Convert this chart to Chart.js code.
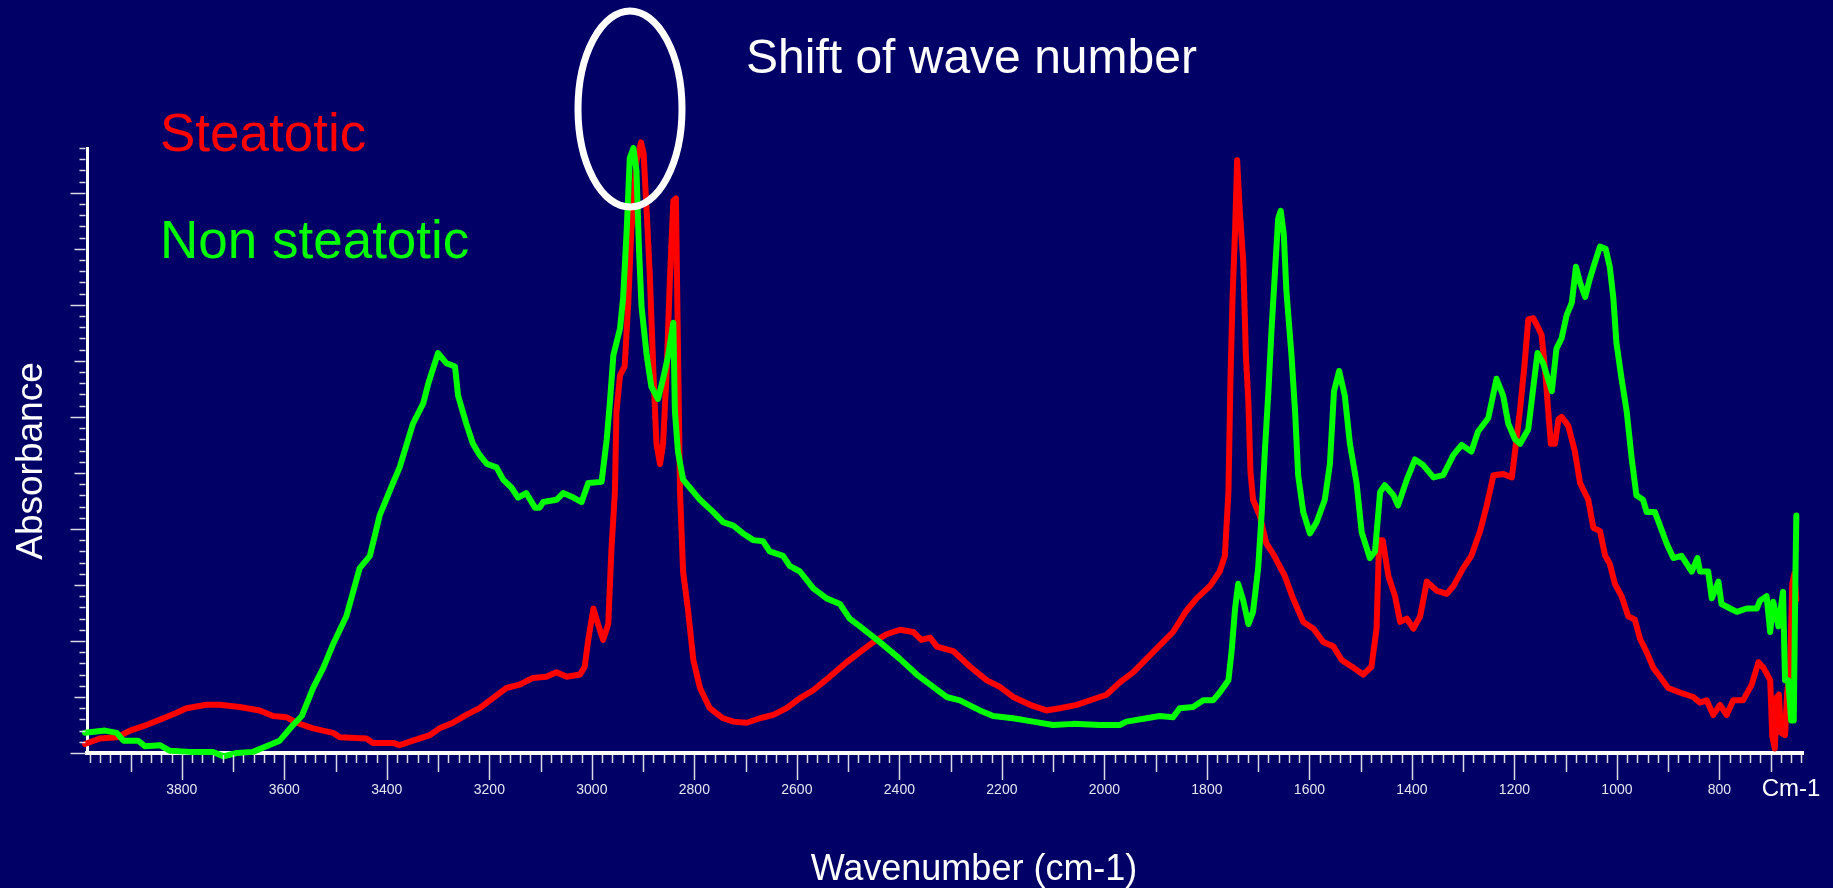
<!DOCTYPE html>
<html>
<head>
<meta charset="utf-8">
<title>FTIR spectra</title>
<script src="https://cdn.jsdelivr.net/npm/chart.js@4.4.1/dist/chart.umd.min.js"></script>
<style>
    html, body { margin: 0; padding: 0; background: #000066; overflow: hidden; }
    #spectrum { display: block; }
</style>
</head>
<body>
<canvas id="spectrum" width="1833" height="888"></canvas>
<script>
// --- Data (wavenumber in cm-1, absorbance in arbitrary units) ---
const steatoticWavenumber = [
    3989, 3960, 3927, 3901, 3869, 3836, 3810, 3791, 3752, 3726,
    3687, 3648, 3622, 3596, 3576, 3544, 3505, 3492, 3440, 3427,
    3388, 3375, 3349, 3316, 3297, 3271, 3245, 3219, 3193, 3167,
    3141, 3115, 3089, 3069, 3049, 3023, 3014, 3007, 2997, 2988,
    2978, 2968, 2962, 2955, 2952, 2945, 2936, 2929, 2923, 2913,
    2904, 2899, 2892, 2887, 2880, 2874, 2867, 2861, 2854, 2848,
    2841, 2836, 2833, 2828, 2822, 2812, 2802, 2789, 2770, 2744,
    2724, 2698, 2672, 2646, 2620, 2594, 2568, 2536, 2503, 2477,
    2451, 2425, 2399, 2373, 2357, 2340, 2327, 2295, 2262, 2230,
    2204, 2178, 2145, 2113, 2087, 2054, 2022, 1996, 1970, 1944,
    1918, 1892, 1866, 1840, 1820, 1794, 1775, 1765, 1758, 1754,
    1750, 1745, 1741, 1736, 1729, 1724, 1719, 1715, 1710, 1697,
    1684, 1671, 1648, 1632, 1612, 1592, 1573, 1553, 1537, 1514,
    1495, 1479, 1469, 1464, 1457, 1446, 1433, 1423, 1410, 1397,
    1384, 1371, 1352, 1332, 1319, 1300, 1284, 1267, 1254, 1241,
    1222, 1205, 1196, 1189, 1180, 1173, 1163, 1154, 1147, 1140,
    1134, 1129, 1121, 1114, 1108, 1095, 1082, 1072, 1056, 1046,
    1033, 1023, 1014, 1004, 991, 978, 965, 955, 942, 929,
    916, 900, 877, 851, 838, 825, 812, 799, 786, 773,
    754, 737, 724, 714, 701, 697, 692, 688, 684, 680,
    672, 668, 662, 658, 654, 650
];
const steatoticAbsorbance = [
    0.08, 0.13, 0.14, 0.20, 0.25, 0.31, 0.36, 0.40, 0.43, 0.43,
    0.41, 0.38, 0.33, 0.32, 0.27, 0.22, 0.18, 0.14, 0.13, 0.09,
    0.09, 0.07, 0.11, 0.16, 0.22, 0.27, 0.34, 0.40, 0.49, 0.58,
    0.61, 0.67, 0.68, 0.72, 0.68, 0.70, 0.77, 1.01, 1.29, 1.15,
    1.01, 1.15, 1.80, 2.33, 3.05, 3.37, 3.45, 4.02, 4.67, 5.28,
    5.45, 5.35, 4.74, 4.27, 3.41, 2.76, 2.58, 2.76, 3.41, 4.20,
    4.93, 4.95, 3.95, 2.33, 1.62, 1.26, 0.83, 0.58, 0.40, 0.31,
    0.28, 0.27, 0.31, 0.34, 0.40, 0.49, 0.56, 0.68, 0.81, 0.90,
    0.99, 1.06, 1.10, 1.08, 1.01, 1.03, 0.95, 0.91, 0.77, 0.65,
    0.59, 0.50, 0.43, 0.38, 0.40, 0.43, 0.48, 0.52, 0.63, 0.72,
    0.84, 0.96, 1.08, 1.27, 1.38, 1.49, 1.62, 1.76, 2.33, 3.34,
    4.06, 4.67, 5.29, 4.85, 4.38, 3.55, 3.12, 2.51, 2.26, 2.12,
    1.87, 1.78, 1.58, 1.38, 1.17, 1.11, 0.99, 0.95, 0.83, 0.76,
    0.70, 0.77, 1.11, 1.90, 1.90, 1.58, 1.40, 1.17, 1.20, 1.11,
    1.22, 1.53, 1.45, 1.42, 1.49, 1.65, 1.76, 1.98, 2.21, 2.48,
    2.49, 2.46, 2.80, 3.07, 3.48, 3.87, 3.88, 3.80, 3.73, 3.41,
    3.05, 2.76, 2.76, 2.98, 3.00, 2.92, 2.69, 2.41, 2.26, 2.01,
    1.98, 1.76, 1.69, 1.51, 1.40, 1.22, 1.19, 1.02, 0.90, 0.76,
    0.68, 0.58, 0.54, 0.50, 0.45, 0.47, 0.34, 0.43, 0.34, 0.47,
    0.47, 0.61, 0.81, 0.76, 0.65, 0.15, 0.04, 0.50, 0.52, 0.18,
    0.16, 0.54, 0.76, 1.51, 1.60, 1.37
];

const nonSteatoticWavenumber = [
    3989, 3950, 3927, 3914, 3885, 3872, 3843, 3823, 3784, 3739,
    3719, 3693, 3661, 3635, 3609, 3583, 3566, 3544, 3524, 3505,
    3479, 3453, 3433, 3414, 3388, 3375, 3349, 3329, 3319, 3300,
    3284, 3267, 3261, 3245, 3232, 3219, 3205, 3186, 3173, 3157,
    3144, 3128, 3111, 3102, 3095, 3069, 3056, 3036, 3020, 3007,
    2981, 2971, 2965, 2958, 2945, 2939, 2932, 2926, 2919, 2913,
    2908, 2903, 2893, 2884, 2871, 2861, 2851, 2841, 2838, 2832,
    2822, 2809, 2789, 2763, 2744, 2724, 2705, 2685, 2666, 2653,
    2627, 2614, 2594, 2568, 2542, 2516, 2497, 2477, 2438, 2399,
    2366, 2334, 2308, 2282, 2243, 2217, 2178, 2139, 2100, 2061,
    2009, 1970, 1957, 1918, 1892, 1866, 1853, 1827, 1807, 1788,
    1775, 1758, 1752, 1745, 1739, 1729, 1719, 1710, 1700, 1693,
    1687, 1680, 1674, 1667, 1661, 1656, 1650, 1645, 1635, 1628,
    1622, 1612, 1599, 1586, 1570, 1560, 1552, 1542, 1531, 1521,
    1508, 1498, 1482, 1472, 1462, 1453, 1436, 1427, 1410, 1394,
    1378, 1358, 1339, 1319, 1303, 1284, 1271, 1251, 1235, 1222,
    1212, 1199, 1189, 1173, 1163, 1155, 1144, 1127, 1118, 1108,
    1098, 1088, 1080, 1072, 1062, 1053, 1043, 1033, 1022, 1014,
    1007, 1001, 991, 981, 971, 962, 949, 942, 926, 916,
    903, 890, 874, 854, 843, 838, 822, 815, 802, 796,
    779, 766, 747, 727, 721, 708, 701, 695, 685, 676,
    672, 666, 660, 655, 652, 650
];
const nonSteatoticAbsorbance = [
    0.18, 0.20, 0.18, 0.11, 0.11, 0.06, 0.07, 0.02, 0.01, 0.01,
    -0.03, 0.00, 0.01, 0.06, 0.11, 0.25, 0.33, 0.58, 0.76, 0.97,
    1.22, 1.65, 1.76, 2.12, 2.41, 2.55, 2.94, 3.12, 3.30, 3.57,
    3.48, 3.45, 3.19, 2.94, 2.76, 2.66, 2.58, 2.55, 2.44, 2.37,
    2.28, 2.32, 2.19, 2.19, 2.24, 2.26, 2.32, 2.28, 2.24, 2.41,
    2.42, 2.80, 3.12, 3.55, 3.79, 4.06, 4.67, 5.31, 5.40, 5.20,
    4.49, 3.98, 3.55, 3.27, 3.16, 3.34, 3.55, 3.84, 3.05, 2.69,
    2.44, 2.37, 2.26, 2.15, 2.06, 2.03, 1.96, 1.90, 1.89, 1.80,
    1.76, 1.67, 1.62, 1.47, 1.38, 1.33, 1.20, 1.13, 0.99, 0.84,
    0.70, 0.59, 0.50, 0.47, 0.38, 0.33, 0.31, 0.28, 0.25, 0.26,
    0.25, 0.25, 0.28, 0.31, 0.33, 0.32, 0.40, 0.41, 0.47, 0.47,
    0.54, 0.65, 0.90, 1.29, 1.51, 1.36, 1.15, 1.26, 1.65, 2.15,
    2.69, 3.23, 3.77, 4.31, 4.77, 4.84, 4.63, 4.13, 3.55, 3.05,
    2.48, 2.15, 1.96, 2.06, 2.26, 2.58, 3.23, 3.41, 3.19, 2.76,
    2.41, 1.97, 1.74, 1.80, 2.33, 2.39, 2.30, 2.21, 2.44, 2.62,
    2.57, 2.46, 2.48, 2.66, 2.75, 2.69, 2.87, 2.99, 3.34, 3.19,
    2.94, 2.80, 2.76, 2.89, 3.27, 3.57, 3.48, 3.23, 3.61, 3.70,
    3.91, 4.02, 4.34, 4.20, 4.07, 4.23, 4.38, 4.52, 4.50, 4.34,
    4.06, 3.66, 3.34, 3.05, 2.62, 2.30, 2.26, 2.15, 2.15, 2.03,
    1.87, 1.74, 1.76, 1.62, 1.74, 1.62, 1.62, 1.38, 1.53, 1.33,
    1.29, 1.26, 1.29, 1.29, 1.36, 1.40, 1.08, 1.35, 1.13, 1.44,
    0.65, 0.65, 0.29, 0.29, 1.51, 2.12
];

// labelled ticks on the wavenumber axis
const wavenumberTickLabels = [3800, 3600, 3400, 3200, 3000, 2800, 2600, 2400, 2200, 2000, 1800, 1600, 1400, 1200, 1000, 800];

const FONT = '"Liberation Sans", Arial, sans-serif';

function toPoints(xs, ys) {
    return xs.map((w, i) => ({ x: w, y: ys[i] }));
}

// Helper plugin: tick marks of several lengths, free text and the ellipse
const decorPlugin = {
    id: 'decor',
    afterDraw(chart) {
        const ctx = chart.ctx;
        const x = chart.scales.x;
        const y = chart.scales.y;
        const area = chart.chartArea;
        ctx.save();

        // x ticks: every 20, longer every 100 and 200
        ctx.strokeStyle = '#d8d8e6';
        ctx.lineWidth = 1.5;
        const base = area.bottom + 2;
        for (let w = 3980; w >= 640; w -= 20) {
            const len = w % 200 === 0 ? 25 : (w % 100 === 0 ? 17 : 8);
            const px = Math.round(x.getPixelForValue(w)) + 0.5;
            ctx.beginPath();
            ctx.moveTo(px, base);
            ctx.lineTo(px, base + len);
            ctx.stroke();
        }

        // y ticks: every 0.1, longer every 0.5 and 1
        const left = area.left - 1.5;
        for (let i = 0; i <= 54; i++) {
            const len = i % 10 === 0 ? 15 : (i % 5 === 0 ? 11 : 6);
            const py = Math.round(y.getPixelForValue(i / 10)) + 0.5;
            ctx.beginPath();
            ctx.moveTo(left, py);
            ctx.lineTo(left - len, py);
            ctx.stroke();
        }

        // free text
        ctx.textBaseline = 'alphabetic';
        ctx.textAlign = 'left';
        ctx.fillStyle = '#ffffff';
        ctx.font = '48px ' + FONT;
        ctx.fillText('Shift of wave number', 746, 73);

        ctx.font = '53px ' + FONT;
        ctx.fillStyle = '#ff0000';
        ctx.fillText('Steatotic', 160, 151);
        ctx.fillStyle = '#00ff00';
        ctx.fillText('Non steatotic', 160, 258);

        ctx.fillStyle = '#ffffff';
        ctx.textAlign = 'center';
        ctx.font = '36px ' + FONT;
        ctx.fillText('Wavenumber (cm-1)', 974, 880);

        ctx.textBaseline = 'middle';
        ctx.font = '24px ' + FONT;
        ctx.fillText('Cm-1', 1791, 789);

        ctx.save();
        ctx.translate(32, 461);
        ctx.rotate(-Math.PI / 2);
        ctx.font = '37px ' + FONT;
        ctx.fillText('Absorbance', 0, 0);
        ctx.restore();

        // the ellipse round the CH2 peak
        ctx.strokeStyle = '#ffffff';
        ctx.lineWidth = 7;
        ctx.beginPath();
        ctx.ellipse(630, 109, 52, 98, 0, 0, Math.PI * 2);
        ctx.stroke();

        ctx.restore();
    }
};

window.onload = function () {
    const ctx = document.getElementById('spectrum').getContext('2d');

    new Chart(ctx, {
        type: 'line',
        data: {
            datasets: [
                {
                    label: 'Non steatotic',
                    data: toPoints(nonSteatoticWavenumber, nonSteatoticAbsorbance),
                    borderColor: '#00ff00',
                    borderWidth: 6,
                    borderCapStyle: 'round',
                    borderJoinStyle: 'round',
                    pointRadius: 0,
                    tension: 0,
                    clip: false
                },
                {
                    label: 'Steatotic',
                    data: toPoints(steatoticWavenumber, steatoticAbsorbance),
                    borderColor: '#ff0000',
                    borderWidth: 6,
                    borderCapStyle: 'round',
                    borderJoinStyle: 'round',
                    pointRadius: 0,
                    tension: 0,
                    clip: false
                }
            ]
        },
        options: {
            responsive: false,
            animation: false,
            devicePixelRatio: 1,
            layout: {
                padding: { left: 67, right: 30, top: 148, bottom: 85 }
            },
            scales: {
                x: {
                    type: 'linear',
                    reverse: true,
                    min: 637,
                    max: 3985,
                    afterFit(scale) { scale.height = 50; },
                    afterBuildTicks(scale) {
                        scale.ticks = wavenumberTickLabels.map(v => ({ value: v }));
                    },
                    grid: {
                        display: true,
                        drawOnChartArea: false,
                        drawTicks: true,
                        tickLength: 26,
                        color: 'rgba(0,0,0,0)'
                    },
                    border: { display: true, color: '#ffffff', width: 4 },
                    ticks: {
                        autoSkip: false,
                        maxRotation: 0,
                        padding: 3,
                        color: '#e6e6f0',
                        font: { family: FONT, size: 14 },
                        callback: value => String(value)
                    }
                },
                y: {
                    type: 'linear',
                    min: 0,
                    max: 5.4,
                    afterFit(scale) { scale.width = 20; },
                    grid: { display: false },
                    border: { display: true, color: '#ffffff', width: 3 },
                    ticks: { display: false }
                }
            },
            plugins: {
                legend: { display: false },
                tooltip: { enabled: false }
            }
        },
        plugins: [decorPlugin]
    });
};
</script>
</body>
</html>
